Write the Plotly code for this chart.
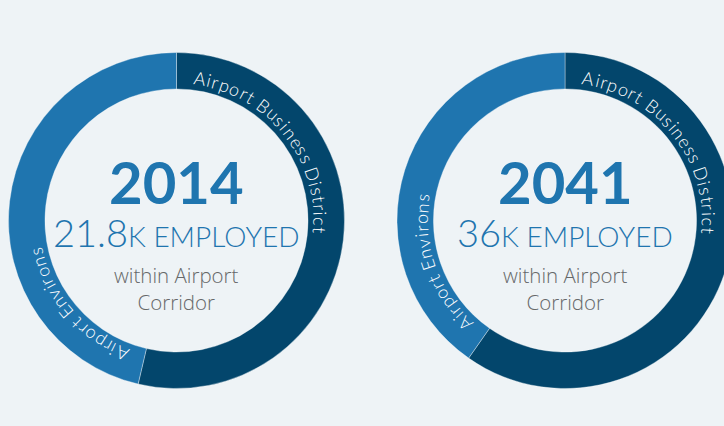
import math
import plotly.graph_objects as go

# ---------------- data ----------------
years = ["2014", "2041"]
employed_k = ["21.8", "36"]
segments = ["Airport Business District", "Airport Environs"]
business_k = [11.7, 21.5]
environs_k = [10.1, 14.5]
sub_lines = ["within Airport", "Corridor"]

# ---------------- style ----------------
VW, VH = 724, 426          # visible window
W, H = 740, 426            # figure canvas (right donut runs past the window edge)
BG = "#EEF3F6"
DARK = "#03466C"
MID = "#1F75AF"
TEXT_BLUE = "#1F75AF"
GRAY = "#666869"
FONT = "Lato"
HOLE = 0.783

centres = [(176.5, 220.5), (565.0, 220.5)]
radii = [168.0, 168.0]
text_cx = [176.0, 565.0]

# approximate Lato advance widths (em)
CW = {'A': .68, 'i': .24, 'r': .36, 'p': .55, 'o': .56, 't': .36, ' ': .21,
      'B': .63, 'u': .55, 's': .43, 'n': .55, 'e': .52, 'D': .73, 'c': .47,
      'E': .55, 'v': .51}
LBL_SIZE = 18
TRACK = 1.4
START_OFF = 6.8    # degrees after slice start
TEXT_R = 0.858     # label radius as a fraction of the outer radius

fig = go.Figure()
annotations = []


def arc_label(text, start_deg, cx, cy, r):
    s = 0.0
    start = math.radians(start_deg)
    for ch in text:
        w = CW.get(ch, .5) * LBL_SIZE
        mid = s + w / 2
        th = start + mid / r
        x = cx + r * math.sin(th)
        y = cy - r * math.cos(th)
        ang = math.degrees(th) % 360
        if ang > 180:
            ang -= 360
        if ch != ' ':
            annotations.append(dict(
                x=x / W, y=1 - y / H, xref="paper", yref="paper",
                text=ch, showarrow=False, xanchor="center", yanchor="middle",
                textangle=ang, borderpad=0,
                font=dict(family=FONT, size=LBL_SIZE, color="white", weight=300)))
        s += w + TRACK


for i in range(2):
    cx, cy = centres[i]
    r = radii[i]
    vals = [business_k[i], environs_k[i]]
    fig.add_trace(go.Pie(
        labels=segments, values=vals, hole=HOLE, sort=False,
        direction="clockwise", rotation=0,
        marker=dict(colors=[DARK, MID], line=dict(color="rgba(255,255,255,0.35)", width=1)),
        textinfo="none", hoverinfo="label+value", showlegend=False,
        domain=dict(x=[(cx - r) / W, min(1.0, (cx + r) / W)],
                    y=[1 - (cy + r) / H, 1 - (cy - r) / H]),
    ))
    total = sum(vals)
    start = 0.0
    for seg, v in zip(segments, vals):
        arc_label(seg, start + START_OFF, cx, cy, r * TEXT_R)
        start += v / total * 360

    tx = text_cx[i] / W
    annotations.append(dict(
        x=tx, y=1 - 181 / H, xref="paper", yref="paper", showarrow=False,
        text="<b>%s</b>" % years[i], xanchor="center", yanchor="middle",
        font=dict(family=FONT, size=58, color=TEXT_BLUE)))
    annotations.append(dict(
        x=tx, y=1 - 232 / H, xref="paper", yref="paper", showarrow=False,
        text="%s<span style='font-size:28px'>K EMPLOYED</span>" % employed_k[i],
        xanchor="center", yanchor="middle",
        font=dict(family=FONT, size=38, color=TEXT_BLUE, weight=300)))
    annotations.append(dict(
        x=tx, y=1 - 288 / H, xref="paper", yref="paper",
        showarrow=False, text="<br>".join(sub_lines), xanchor="center", yanchor="middle",
        font=dict(family="Open Sans", size=20.5, color=GRAY, weight=300)))

fig.update_layout(
    width=W, height=H, margin=dict(l=0, r=0, t=0, b=0),
    paper_bgcolor=BG, plot_bgcolor=BG,
    annotations=annotations,
)

post = ("document.body.style.margin='0';"
        "document.body.style.overflow='hidden';"
        "document.body.style.background='%s';"
        "var d=document.getElementById('{plot_id}');"
        "d.style.width='%dpx';d.style.height='%dpx';d.style.overflow='hidden';") % (BG, VW, VH)

fig.write_html("out.html", post_script=post, config={"displayModeBar": False})
